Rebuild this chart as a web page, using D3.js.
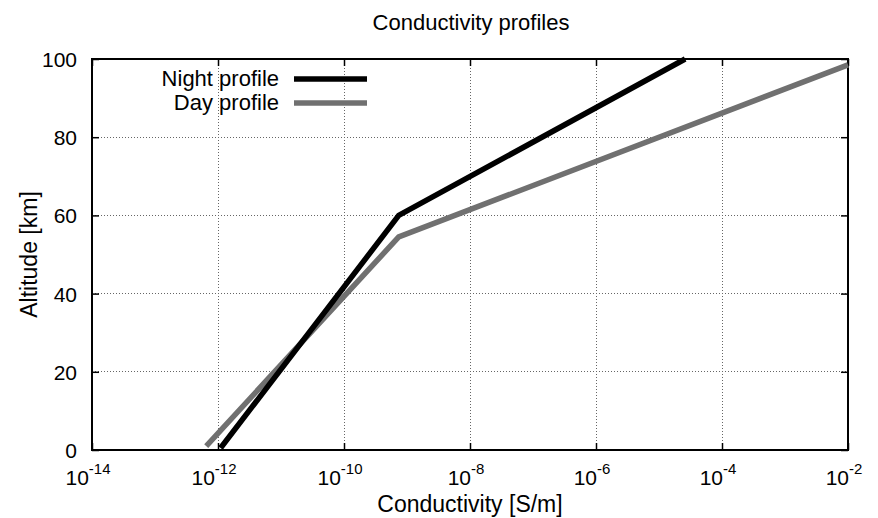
<!DOCTYPE html>
<html>
<head>
<meta charset="utf-8">
<script src="https://cdn.jsdelivr.net/npm/d3@7"></script>
<style>
  html, body { margin: 0; padding: 0; background: #fff; }
  svg { display: block; font-family: "Liberation Sans", Arial, sans-serif; }
</style>
</head>
<body>
<svg id="chart" width="878" height="518"></svg>
<script>
// Conductivity profiles: altitude [km] vs. conductivity [S/m]
const nightSigma = [1.1e-12, 7.4e-10, 2.6e-5];
const nightAlt   = [0.5, 60, 100];
const daySigma   = [6.5e-13, 7.4e-10, 1e-2];
const dayAlt     = [1, 54.5, 98.5];

const xTickExps = [-14, -12, -10, -8, -6, -4, -2];
const yTicks    = [0, 20, 40, 60, 80, 100];
const seriesNames = ["Night profile", "Day profile"];
const seriesColors = ["#000000", "#707070"];

const svg = d3.select("#chart");
const m = { left: 92, right: 878 - 848, top: 59, bottom: 518 - 450 };
const W = 878 - m.left - m.right;
const H = 518 - m.top - m.bottom;

const x = d3.scaleLog().domain([1e-14, 1e-2]).range([m.left, m.left + W]);
const y = d3.scaleLinear().domain([0, 100]).range([m.top + H, m.top]);

// grid
const grid = svg.append("g").attr("stroke", "#666").attr("stroke-width", 1)
  .attr("stroke-dasharray", "1,2").attr("shape-rendering", "crispEdges");
xTickExps.slice(1, -1).forEach(e => {
  grid.append("line").attr("x1", x(Math.pow(10, e))).attr("x2", x(Math.pow(10, e)))
    .attr("y1", m.top).attr("y2", m.top + H);
});
yTicks.slice(1, -1).forEach(v => {
  grid.append("line").attr("x1", m.left).attr("x2", m.left + W)
    .attr("y1", y(v)).attr("y2", y(v));
});

// axes with inward ticks
const tickVals = xTickExps.map(e => Math.pow(10, e));
const xAxis = d3.axisBottom(x).tickValues(tickVals).tickSizeInner(-7).tickSizeOuter(0).tickFormat("");
const xTop = d3.axisTop(x).tickValues(tickVals).tickSizeInner(-7).tickSizeOuter(0).tickFormat("");
const yAxis = d3.axisLeft(y).tickValues(yTicks).tickSizeInner(-7).tickSizeOuter(0).tickFormat("");
const yRight = d3.axisRight(y).tickValues(yTicks).tickSizeInner(-7).tickSizeOuter(0).tickFormat("");

function styleAxis(g) {
  g.select(".domain").remove();
  g.selectAll(".tick line").attr("stroke", "#000").attr("stroke-width", 1.5);
}
svg.append("g").attr("transform", `translate(0,${m.top + H})`).call(xAxis).call(styleAxis);
svg.append("g").attr("transform", `translate(0,${m.top})`).call(xTop).call(styleAxis);
svg.append("g").attr("transform", `translate(${m.left},0)`).call(yAxis).call(styleAxis);
svg.append("g").attr("transform", `translate(${m.left + W},0)`).call(yRight).call(styleAxis);

// frame
svg.append("rect").attr("x", m.left).attr("y", m.top).attr("width", W).attr("height", H)
  .attr("fill", "none").attr("stroke", "#000").attr("stroke-width", 2);

// tick labels
const xl = svg.append("g").attr("fill", "#000");
xTickExps.forEach(e => {
  const t = xl.append("text").attr("x", x(Math.pow(10, e)) - 4).attr("y", 485)
    .attr("text-anchor", "middle").attr("font-size", 21);
  t.append("tspan").text("10");
  t.append("tspan").attr("dy", -11).attr("font-size", 15).text(String(e));
});
const yl = svg.append("g").attr("fill", "#000");
yTicks.forEach(v => {
  yl.append("text").attr("x", 77).attr("y", y(v) + 8).attr("text-anchor", "end")
    .attr("font-size", 21).text(v);
});

// titles
svg.append("text").attr("x", 471).attr("y", 30).attr("text-anchor", "middle")
  .attr("font-size", 22).text("Conductivity profiles");
svg.append("text").attr("x", 470).attr("y", 512).attr("text-anchor", "middle")
  .attr("font-size", 23).text("Conductivity [S/m]");
svg.append("text").attr("transform", `translate(37,${m.top + H / 2}) rotate(-90)`)
  .attr("text-anchor", "middle").attr("font-size", 23).text("Altitude [km]");

// profile lines
const line = d3.line().x(d => x(d[0])).y(d => y(d[1]));
const nightData = nightSigma.map((s, i) => [s, nightAlt[i]]);
const dayData = daySigma.map((s, i) => [s, dayAlt[i]]);
svg.append("path").datum(dayData).attr("d", line).attr("fill", "none")
  .attr("stroke", seriesColors[1]).attr("stroke-width", 5.5);
svg.append("path").datum(nightData).attr("d", line).attr("fill", "none")
  .attr("stroke", seriesColors[0]).attr("stroke-width", 5.5);

// legend
const legY = [79, 103];
seriesNames.forEach((name, i) => {
  svg.append("text").attr("x", 279).attr("y", legY[i] + 7).attr("text-anchor", "end")
    .attr("font-size", 22).text(name);
  svg.append("line").attr("x1", 294).attr("x2", 367).attr("y1", legY[i]).attr("y2", legY[i])
    .attr("stroke", seriesColors[i]).attr("stroke-width", 5.5);
});
</script>
</body>
</html>
